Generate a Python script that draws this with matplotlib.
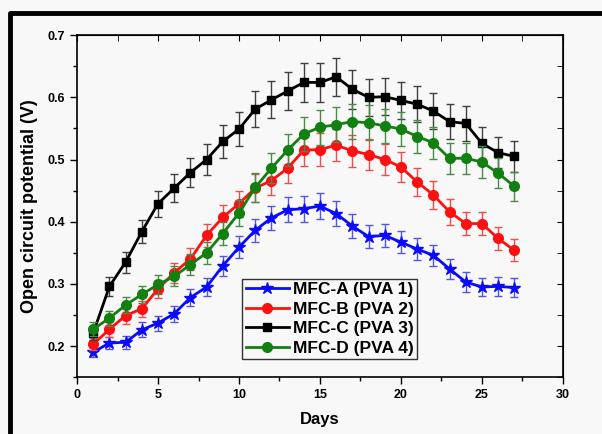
import matplotlib.pyplot as plt
from matplotlib.lines import Line2D
from matplotlib.ticker import MultipleLocator
import numpy as np

plt.rcParams['font.family'] = ['Liberation Sans', 'DejaVu Sans']
plt.rcParams['font.weight'] = 'bold'

# Data
days = list(range(1, 28))

mfc_a = [0.190, 0.205, 0.206, 0.226, 0.237, 0.252, 0.278, 0.295, 0.329, 0.359,
         0.386, 0.406, 0.419, 0.421, 0.425, 0.413, 0.393, 0.376, 0.378, 0.367,
         0.356, 0.346, 0.324, 0.303, 0.295, 0.296, 0.294]
mfc_a_err = [0.008, 0.010, 0.010, 0.012, 0.012, 0.013, 0.014, 0.015, 0.016, 0.018,
             0.018, 0.020, 0.020, 0.021, 0.021, 0.020, 0.019, 0.019, 0.018, 0.018,
             0.018, 0.017, 0.016, 0.016, 0.015, 0.015, 0.015]

mfc_b = [0.203, 0.227, 0.249, 0.260, 0.292, 0.318, 0.340, 0.378, 0.407, 0.429,
         0.454, 0.466, 0.486, 0.515, 0.516, 0.523, 0.514, 0.508, 0.500, 0.488,
         0.464, 0.443, 0.416, 0.397, 0.397, 0.373, 0.354]
mfc_b_err = [0.010, 0.012, 0.013, 0.013, 0.015, 0.016, 0.017, 0.019, 0.020, 0.021,
             0.022, 0.023, 0.024, 0.026, 0.026, 0.026, 0.026, 0.025, 0.025, 0.024,
             0.023, 0.022, 0.021, 0.019, 0.019, 0.018, 0.018]

mfc_c = [0.221, 0.296, 0.335, 0.384, 0.429, 0.454, 0.479, 0.500, 0.529, 0.549,
         0.581, 0.596, 0.610, 0.624, 0.624, 0.633, 0.613, 0.600, 0.601, 0.595,
         0.589, 0.578, 0.561, 0.558, 0.526, 0.511, 0.505]
mfc_c_err = [0.011, 0.015, 0.017, 0.018, 0.021, 0.023, 0.024, 0.025, 0.026, 0.028,
             0.029, 0.030, 0.031, 0.031, 0.031, 0.031, 0.031, 0.030, 0.030, 0.030,
             0.029, 0.029, 0.028, 0.028, 0.026, 0.025, 0.025]

mfc_d = [0.227, 0.245, 0.266, 0.283, 0.299, 0.312, 0.331, 0.350, 0.381, 0.414,
         0.455, 0.486, 0.515, 0.541, 0.552, 0.556, 0.561, 0.559, 0.554, 0.549,
         0.537, 0.527, 0.502, 0.502, 0.496, 0.478, 0.457]
mfc_d_err = [0.011, 0.012, 0.013, 0.014, 0.015, 0.016, 0.017, 0.018, 0.019, 0.021,
             0.023, 0.024, 0.026, 0.027, 0.028, 0.028, 0.028, 0.028, 0.028, 0.027,
             0.027, 0.026, 0.025, 0.025, 0.025, 0.024, 0.023]

series = [
    ('MFC-A (PVA 1)', mfc_a, mfc_a_err, '#0a0aff', '#5555e0', '*', 9),
    ('MFC-B (PVA 2)', mfc_b, mfc_b_err, '#ff1010', '#e85050', 'o', 7),
    ('MFC-C (PVA 3)', mfc_c, mfc_c_err, '#000000', '#404040', 's', 6),
    ('MFC-D (PVA 4)', mfc_d, mfc_d_err, '#118011', '#4a8a4a', 'o', 7),
]

fig = plt.figure(figsize=(6.02, 4.34), dpi=100, facecolor='#f8f8f8')
ax = fig.add_axes([0.128, 0.131, 0.807, 0.788])
ax.set_facecolor('#f8f8f8')

handles = []
for label, vals, errs, col, ecol, mk, ms in series:
    ax.errorbar(days, vals, yerr=errs, fmt='none', ecolor=ecol,
                elinewidth=1, capsize=3, capthick=1)
    line, = ax.plot(days, vals, color=col, marker=mk, markersize=ms,
                    linewidth=2, label=label)
    handles.append(line)

ax.set_xlim(0, 30)
ax.set_ylim(0.15, 0.7)
ax.xaxis.set_major_locator(MultipleLocator(5))
ax.xaxis.set_minor_locator(MultipleLocator(2.5))
ax.yaxis.set_major_locator(MultipleLocator(0.1))
ax.yaxis.set_minor_locator(MultipleLocator(0.05))
ax.yaxis.set_major_formatter(plt.FuncFormatter(lambda v, p: f'{v:.1f}'))

ax.tick_params(which='both', direction='out', labelsize=9, width=1)
ax.tick_params(which='major', length=5)
ax.tick_params(which='minor', length=3)
sx = ax.secondary_xaxis('top')
sx.xaxis.set_major_locator(MultipleLocator(5))
sx.xaxis.set_minor_locator(MultipleLocator(2.5))
sx.tick_params(which='both', direction='in', labeltop=False, length=4)
sy = ax.secondary_yaxis('right')
sy.yaxis.set_major_locator(MultipleLocator(0.1))
sy.yaxis.set_minor_locator(MultipleLocator(0.05))
sy.tick_params(which='both', direction='in', labelright=False, length=4)
for s in ax.spines.values():
    s.set_linewidth(1.2)

ax.set_xlabel('Days', fontsize=12, fontweight='bold', labelpad=8)
ax.set_ylabel('Open circuit potential (V)', fontsize=13, fontweight='bold', labelpad=7)

leg = ax.legend(handles=handles, loc='lower left', bbox_to_anchor=(0.34, 0.052),
                fontsize=12.5, frameon=True, fancybox=False, edgecolor='#333333',
                facecolor='#f8f8f8', framealpha=1, handlelength=2.5,
                borderpad=0.2, labelspacing=0.25, handletextpad=0.2,
                borderaxespad=0)
leg.get_frame().set_linewidth(1)
for t in leg.get_texts():
    t.set_fontweight('bold')

# thick black frame along the top and left edge
fig.add_artist(Line2D([10 / 602, 10 / 602, 1.0], [0.0, 1 - 13 / 434, 1 - 13 / 434],
                      color='black', linewidth=3.5, transform=fig.transFigure))

fig.savefig('out.png', dpi=100, facecolor=fig.get_facecolor())
